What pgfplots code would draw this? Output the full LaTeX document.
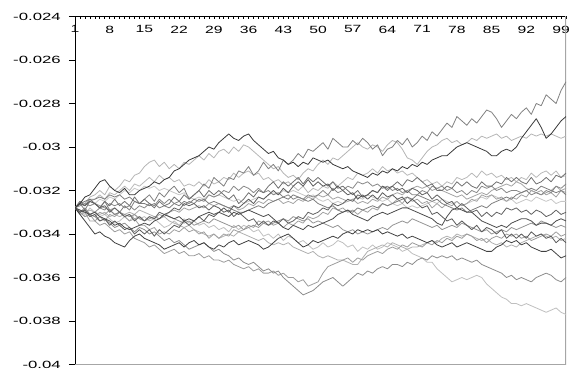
\documentclass[border=0pt]{standalone}
\usepackage{pgfplots}
\pgfplotsset{compat=1.18}
\usepackage{fontspec}
\setmainfont{Liberation Sans}

% every path is one column of values in units of 1e-4, one row per step
\pgfplotsset{
  walk/.style={no markers, line width=0.8bp, line join=round},
  /pgfplots/table/steps/.style={
    /pgfplots/table/x expr=\coordindex+1,
    /pgfplots/table/y expr=\thisrowno{0}/10000,
    /pgfplots/table/header=false,
    /pgfplots/table/row sep=\\},
}

\begin{document}
\begin{tikzpicture}
\begin{axis}[
  anchor=south west, at={(0,0)},
  width=491bp, height=348bp, scale only axis,
  xmin=1, xmax=100, ymin=-0.04, ymax=-0.024,
  enlargelimits=false, clip=true,
  axis x line=top, axis y line=left,
  axis line style={-, black, line width=0.8bp},
  tick align=inside,
  xtick={1,8,15,22,29,36,43,50,57,64,71,78,85,92,99},
  xticklabels={1,8,15,22,29,36,43,50,57,64,71,78,85,92,99},
  minor xtick={1,...,100},
  major tick length=3bp, minor tick length=3bp,
  every tick/.style={black, line width=0.6bp},
  ytick=\empty,
  extra y ticks={-0.04,-0.038,-0.036,-0.034,-0.032,-0.03,-0.028,-0.026,-0.024},
  extra y tick labels={-0.04,-0.038,-0.036,-0.034,-0.032,-0.03,-0.028,-0.026,-0.024},
  extra y tick style={major tick length=6bp, tick style={xshift=-6bp}},
  xticklabel style={font=\fontsize{10.5}{12}\selectfont, anchor=north, inner sep=0pt, yshift=-9bp, xscale=1.5},
  yticklabel style={font=\fontsize{10.5}{12}\selectfont, anchor=east, inner sep=0pt, xshift=-14bp, xscale=1.6},
]
% plot area frame on the right and bottom
\draw[black!35, line width=1.2bp] (rel axis cs:0,0) -- (rel axis cs:1,0) -- (rel axis cs:1,1);

\addplot[walk, black!25] table[steps] {
-328\\-329\\-331\\-328\\-330\\-332\\-331\\-333\\-335\\-334\\
-332\\-334\\-331\\-333\\-332\\-334\\-333\\-335\\-337\\-336\\
-334\\-336\\-333\\-335\\-334\\-336\\-335\\-337\\-336\\-338\\
-337\\-339\\-336\\-338\\-336\\-337\\-339\\-338\\-341\\-340\\
-342\\-340\\-343\\-341\\-342\\-344\\-343\\-345\\-347\\-346\\
-344\\-346\\-345\\-343\\-344\\-346\\-345\\-348\\-346\\-347\\
-345\\-347\\-346\\-344\\-345\\-346\\-348\\-347\\-349\\-350\\
-351\\-353\\-353\\-356\\-358\\-360\\-362\\-361\\-360\\-361\\
-360\\-359\\-360\\-363\\-365\\-367\\-369\\-370\\-372\\-372\\
-373\\-372\\-373\\-374\\-375\\-376\\-375\\-374\\-376\\-377\\};

\addplot[walk, black!22] table[steps] {
-328\\-327\\-326\\-327\\-326\\-324\\-325\\-323\\-324\\-322\\
-320\\-321\\-319\\-320\\-318\\-319\\-318\\-320\\-319\\-320\\
-321\\-322\\-321\\-323\\-324\\-323\\-324\\-322\\-323\\-322\\
-323\\-324\\-325\\-324\\-326\\-325\\-324\\-323\\-324\\-322\\
-321\\-322\\-320\\-321\\-320\\-321\\-322\\-323\\-322\\-324\\
-325\\-324\\-326\\-325\\-326\\-325\\-324\\-323\\-324\\-322\\
-323\\-324\\-325\\-324\\-326\\-327\\-326\\-328\\-327\\-328\\
-327\\-326\\-325\\-326\\-324\\-325\\-326\\-325\\-327\\-326\\
-325\\-324\\-323\\-324\\-322\\-323\\-324\\-325\\-324\\-326\\
-325\\-324\\-325\\-323\\-324\\-325\\-324\\-326\\-325\\-325\\};

\addplot[walk, black!29] table[steps] {
-328\\-325\\-326\\-323\\-322\\-320\\-322\\-318\\-320\\-318\\
-315\\-316\\-313\\-312\\-309\\-307\\-306\\-309\\-307\\-310\\
-308\\-310\\-307\\-308\\-306\\-304\\-306\\-303\\-305\\-302\\
-301\\-303\\-300\\-302\\-299\\-300\\-302\\-304\\-306\\-308\\
-310\\-309\\-312\\-314\\-313\\-315\\-312\\-310\\-311\\-308\\
-306\\-308\\-305\\-306\\-304\\-302\\-300\\-298\\-300\\-301\\
-299\\-300\\-302\\-299\\-297\\-298\\-301\\-305\\-306\\-308\\
-305\\-302\\-300\\-299\\-297\\-296\\-298\\-297\\-299\\-298\\
-296\\-297\\-295\\-296\\-295\\-294\\-296\\-295\\-297\\-296\\
-295\\-296\\-294\\-295\\-294\\-295\\-294\\-295\\-296\\-295\\};

\addplot[walk, black!28] table[steps] {
-328\\-326\\-327\\-325\\-324\\-322\\-324\\-321\\-322\\-320\\
-318\\-320\\-317\\-318\\-316\\-314\\-316\\-313\\-315\\-314\\
-316\\-315\\-318\\-317\\-318\\-316\\-318\\-315\\-317\\-316\\
-314\\-315\\-312\\-314\\-312\\-311\\-313\\-312\\-315\\-314\\
-316\\-315\\-317\\-316\\-318\\-320\\-318\\-321\\-319\\-320\\
-318\\-319\\-316\\-318\\-316\\-314\\-315\\-312\\-313\\-312\\
-310\\-312\\-309\\-311\\-310\\-312\\-311\\-313\\-312\\-314\\
-316\\-315\\-317\\-316\\-318\\-316\\-317\\-314\\-315\\-314\\
-312\\-314\\-311\\-313\\-312\\-314\\-313\\-315\\-314\\-316\\
-314\\-315\\-312\\-314\\-312\\-311\\-313\\-311\\-314\\-313\\};

\addplot[walk, black!31] table[steps] {
-328\\-329\\-330\\-329\\-330\\-331\\-330\\-332\\-331\\-332\\
-331\\-330\\-331\\-329\\-330\\-331\\-332\\-333\\-332\\-334\\
-335\\-336\\-337\\-336\\-338\\-339\\-340\\-341\\-340\\-342\\
-341\\-340\\-341\\-339\\-340\\-341\\-342\\-343\\-342\\-344\\
-345\\-344\\-345\\-344\\-346\\-347\\-348\\-349\\-348\\-350\\
-351\\-350\\-351\\-352\\-352\\-353\\-354\\-354\\-351\\-348\\
-347\\-346\\-345\\-346\\-344\\-345\\-346\\-347\\-346\\-346\\
-345\\-344\\-343\\-344\\-342\\-341\\-342\\-340\\-341\\-340\\
-341\\-342\\-343\\-342\\-344\\-345\\-344\\-346\\-345\\-346\\
-344\\-343\\-342\\-341\\-340\\-341\\-342\\-341\\-343\\-342\\};

\addplot[walk, black!36] table[steps] {
-328\\-330\\-332\\-331\\-332\\-330\\-331\\-329\\-331\\-330\\
-332\\-331\\-333\\-332\\-334\\-332\\-333\\-331\\-332\\-330\\
-329\\-330\\-328\\-329\\-328\\-327\\-328\\-326\\-327\\-326\\
-327\\-328\\-327\\-329\\-328\\-326\\-327\\-325\\-326\\-324\\
-325\\-324\\-326\\-325\\-326\\-324\\-325\\-323\\-324\\-322\\
-323\\-322\\-324\\-323\\-324\\-325\\-324\\-326\\-325\\-326\\
-324\\-325\\-323\\-324\\-322\\-321\\-322\\-320\\-319\\-318\\
-319\\-318\\-320\\-319\\-320\\-321\\-322\\-323\\-322\\-324\\
-323\\-322\\-321\\-322\\-320\\-319\\-318\\-317\\-318\\-316\\
-317\\-319\\-320\\-321\\-322\\-321\\-320\\-318\\-320\\-319\\};

\addplot[walk, black!37] table[steps] {
-328\\-331\\-330\\-334\\-334\\-332\\-334\\-331\\-332\\-330\\
-332\\-334\\-333\\-336\\-336\\-338\\-337\\-340\\-339\\-340\\
-338\\-339\\-337\\-339\\-338\\-340\\-339\\-342\\-340\\-342\\
-340\\-341\\-338\\-339\\-338\\-336\\-337\\-334\\-335\\-334\\
-336\\-335\\-337\\-335\\-336\\-334\\-335\\-332\\-333\\-332\\
-330\\-331\\-328\\-329\\-328\\-330\\-329\\-331\\-329\\-330\\
-328\\-329\\-326\\-327\\-326\\-324\\-326\\-323\\-325\\-324\\
-326\\-325\\-328\\-326\\-328\\-326\\-327\\-325\\-327\\-326\\
-324\\-325\\-322\\-323\\-322\\-324\\-323\\-325\\-323\\-324\\
-322\\-323\\-320\\-321\\-320\\-322\\-321\\-323\\-320\\-321\\};

\addplot[walk, black!39] table[steps] {
-328\\-330\\-332\\-331\\-334\\-336\\-335\\-337\\-339\\-338\\
-340\\-339\\-342\\-343\\-344\\-346\\-345\\-347\\-349\\-348\\
-347\\-349\\-348\\-350\\-350\\-349\\-351\\-350\\-352\\-352\\
-353\\-352\\-354\\-355\\-356\\-355\\-357\\-356\\-358\\-358\\
-357\\-359\\-358\\-360\\-360\\-362\\-361\\-364\\-363\\-362\\
-358\\-355\\-354\\-353\\-352\\-351\\-353\\-351\\-352\\-350\\
-349\\-348\\-349\\-347\\-346\\-347\\-345\\-346\\-344\\-345\\
-346\\-344\\-345\\-343\\-344\\-342\\-343\\-341\\-342\\-340\\
-341\\-343\\-342\\-344\\-342\\-341\\-342\\-340\\-341\\-340\\
-342\\-341\\-343\\-342\\-341\\-340\\-341\\-339\\-341\\-340\\};

\addplot[walk, black!42] table[steps] {
-328\\-327\\-326\\-327\\-326\\-327\\-328\\-329\\-328\\-330\\
-331\\-332\\-331\\-333\\-334\\-333\\-332\\-333\\-331\\-332\\
-333\\-334\\-335\\-334\\-336\\-335\\-334\\-335\\-333\\-334\\
-335\\-336\\-337\\-336\\-338\\-337\\-336\\-337\\-335\\-336\\
-335\\-334\\-333\\-334\\-332\\-333\\-334\\-333\\-335\\-334\\
-335\\-336\\-337\\-336\\-338\\-339\\-338\\-340\\-339\\-340\\
-339\\-338\\-337\\-338\\-336\\-335\\-334\\-335\\-333\\-334\\
-335\\-336\\-337\\-336\\-338\\-337\\-336\\-337\\-335\\-336\\
-337\\-338\\-339\\-338\\-340\\-339\\-338\\-339\\-337\\-338\\
-337\\-336\\-335\\-336\\-334\\-335\\-336\\-337\\-336\\-337\\};

\addplot[walk, black!45] table[steps] {
-328\\-330\\-329\\-331\\-332\\-334\\-333\\-335\\-337\\-336\\
-335\\-337\\-339\\-337\\-338\\-340\\-339\\-341\\-343\\-342\\
-344\\-343\\-345\\-347\\-346\\-345\\-344\\-346\\-348\\-347\\
-349\\-350\\-352\\-351\\-353\\-354\\-353\\-355\\-357\\-356\\
-358\\-357\\-360\\-362\\-364\\-366\\-368\\-367\\-366\\-364\\
-362\\-361\\-360\\-362\\-364\\-362\\-360\\-358\\-359\\-357\\
-358\\-356\\-355\\-356\\-354\\-354\\-355\\-353\\-354\\-352\\
-351\\-352\\-350\\-351\\-350\\-351\\-350\\-352\\-351\\-352\\
-353\\-352\\-354\\-355\\-356\\-357\\-358\\-360\\-359\\-361\\
-360\\-361\\-362\\-360\\-359\\-358\\-359\\-361\\-362\\-360\\};

\addplot[walk, black!47] table[steps] {
-328\\-330\\-328\\-331\\-330\\-328\\-329\\-326\\-327\\-326\\
-328\\-327\\-329\\-327\\-328\\-326\\-327\\-324\\-326\\-324\\
-326\\-325\\-327\\-325\\-326\\-324\\-325\\-322\\-323\\-322\\
-320\\-321\\-318\\-320\\-318\\-319\\-321\\-319\\-321\\-320\\
-322\\-321\\-323\\-322\\-324\\-323\\-324\\-322\\-323\\-322\\
-320\\-322\\-319\\-321\\-320\\-318\\-319\\-316\\-317\\-316\\
-318\\-317\\-319\\-318\\-320\\-319\\-321\\-320\\-322\\-322\\
-320\\-321\\-318\\-319\\-318\\-320\\-319\\-321\\-320\\-322\\
-320\\-321\\-318\\-319\\-318\\-320\\-319\\-321\\-320\\-320\\
-321\\-320\\-322\\-321\\-322\\-320\\-321\\-318\\-319\\-317\\};

\addplot[walk, black!50] table[steps] {
-328\\-326\\-329\\-325\\-326\\-328\\-325\\-329\\-331\\-330\\
-327\\-329\\-325\\-326\\-324\\-322\\-325\\-321\\-323\\-320\\
-318\\-321\\-319\\-324\\-322\\-320\\-317\\-319\\-314\\-316\\
-318\\-314\\-315\\-311\\-312\\-309\\-313\\-311\\-307\\-310\\
-308\\-311\\-306\\-308\\-306\\-303\\-305\\-301\\-302\\-300\\
-298\\-301\\-296\\-298\\-300\\-300\\-297\\-299\\-296\\-298\\
-301\\-299\\-304\\-301\\-300\\-297\\-299\\-296\\-300\\-298\\
-295\\-297\\-293\\-295\\-292\\-289\\-291\\-286\\-288\\-290\\
-287\\-289\\-286\\-283\\-284\\-287\\-291\\-288\\-285\\-287\\
-284\\-282\\-285\\-280\\-281\\-276\\-278\\-280\\-274\\-270\\};

\addplot[walk, black!51] table[steps] {
-328\\-326\\-325\\-324\\-324\\-323\\-324\\-322\\-323\\-322\\
-324\\-323\\-325\\-326\\-326\\-327\\-326\\-328\\-327\\-328\\
-326\\-327\\-325\\-326\\-324\\-325\\-324\\-326\\-325\\-326\\
-327\\-328\\-329\\-330\\-330\\-329\\-328\\-327\\-328\\-326\\
-325\\-324\\-323\\-324\\-322\\-323\\-324\\-325\\-324\\-326\\
-327\\-328\\-327\\-329\\-330\\-329\\-330\\-328\\-329\\-328\\
-327\\-328\\-326\\-327\\-326\\-325\\-324\\-323\\-324\\-322\\
-323\\-324\\-325\\-324\\-326\\-327\\-328\\-329\\-328\\-330\\
-329\\-328\\-327\\-328\\-326\\-325\\-324\\-323\\-324\\-322\\
-321\\-320\\-319\\-320\\-318\\-319\\-320\\-321\\-320\\-322\\};

\addplot[walk, black!56] table[steps] {
-328\\-325\\-327\\-324\\-326\\-328\\-325\\-327\\-324\\-327\\
-325\\-327\\-323\\-326\\-324\\-326\\-328\\-325\\-327\\-326\\
-323\\-325\\-322\\-324\\-322\\-320\\-323\\-320\\-322\\-320\\
-322\\-324\\-322\\-326\\-324\\-321\\-323\\-320\\-321\\-318\\
-316\\-319\\-316\\-318\\-316\\-314\\-317\\-314\\-316\\-314\\
-316\\-318\\-316\\-319\\-318\\-320\\-322\\-320\\-323\\-322\\
-320\\-321\\-318\\-320\\-318\\-316\\-318\\-315\\-316\\-314\\
-316\\-318\\-317\\-320\\-320\\-318\\-319\\-316\\-318\\-316\\
-318\\-319\\-316\\-318\\-318\\-316\\-317\\-314\\-316\\-314\\
-316\\-317\\-314\\-317\\-316\\-314\\-316\\-313\\-314\\-312\\};

\addplot[walk, black!62] table[steps] {
-328\\-326\\-327\\-325\\-326\\-328\\-327\\-330\\-328\\-330\\
-332\\-331\\-334\\-332\\-334\\-332\\-333\\-330\\-331\\-330\\
-328\\-329\\-326\\-327\\-326\\-328\\-327\\-329\\-327\\-328\\
-330\\-329\\-332\\-330\\-332\\-334\\-333\\-336\\-334\\-336\\
-334\\-335\\-333\\-335\\-334\\-332\\-333\\-330\\-331\\-330\\
-328\\-329\\-326\\-327\\-326\\-324\\-325\\-322\\-323\\-322\\
-320\\-321\\-318\\-319\\-318\\-320\\-319\\-321\\-319\\-320\\
-322\\-321\\-324\\-322\\-324\\-326\\-325\\-328\\-326\\-328\\
-330\\-329\\-332\\-330\\-332\\-330\\-331\\-328\\-329\\-328\\
-330\\-329\\-331\\-329\\-330\\-332\\-331\\-329\\-331\\-330\\};

\addplot[walk, black!65] table[steps] {
-328\\-330\\-329\\-332\\-331\\-334\\-333\\-336\\-334\\-336\\
-338\\-337\\-340\\-338\\-340\\-338\\-341\\-338\\-340\\-338\\
-336\\-337\\-334\\-336\\-334\\-332\\-334\\-331\\-332\\-330\\
-328\\-330\\-327\\-328\\-326\\-324\\-326\\-323\\-324\\-322\\
-320\\-322\\-319\\-321\\-318\\-316\\-318\\-315\\-318\\-316\\
-318\\-317\\-320\\-318\\-320\\-322\\-321\\-324\\-322\\-324\\
-322\\-324\\-321\\-323\\-322\\-324\\-323\\-326\\-324\\-326\\
-328\\-327\\-331\\-330\\-332\\-334\\-333\\-336\\-334\\-336\\
-338\\-336\\-339\\-337\\-338\\-340\\-338\\-342\\-340\\-342\\
-340\\-342\\-339\\-341\\-340\\-342\\-341\\-344\\-342\\-344\\};

\addplot[walk, black!70] table[steps] {
-328\\-329\\-330\\-331\\-330\\-332\\-333\\-334\\-336\\-335\\
-337\\-338\\-337\\-336\\-335\\-336\\-334\\-333\\-331\\-332\\
-333\\-332\\-334\\-333\\-334\\-332\\-331\\-330\\-331\\-330\\
-331\\-332\\-330\\-331\\-330\\-329\\-330\\-331\\-332\\-331\\
-333\\-335\\-337\\-338\\-336\\-337\\-338\\-336\\-337\\-336\\
-335\\-334\\-333\\-331\\-330\\-329\\-331\\-332\\-333\\-334\\
-332\\-331\\-330\\-331\\-330\\-329\\-328\\-328\\-329\\-330\\
-331\\-332\\-333\\-335\\-336\\-332\\-329\\-328\\-329\\-330\\
-330\\-332\\-334\\-335\\-336\\-337\\-336\\-337\\-335\\-334\\
-333\\-333\\-334\\-336\\-335\\-335\\-336\\-334\\-333\\-334\\};

\addplot[walk, black!75] table[steps] {
-328\\-331\\-334\\-337\\-340\\-339\\-341\\-342\\-344\\-345\\
-346\\-343\\-341\\-340\\-342\\-343\\-344\\-345\\-347\\-346\\
-345\\-344\\-346\\-344\\-343\\-345\\-344\\-346\\-347\\-345\\
-346\\-344\\-343\\-345\\-344\\-343\\-344\\-345\\-347\\-346\\
-344\\-342\\-341\\-340\\-342\\-344\\-346\\-345\\-343\\-344\\
-343\\-342\\-341\\-342\\-340\\-339\\-340\\-338\\-339\\-338\\
-339\\-338\\-340\\-339\\-340\\-341\\-340\\-342\\-341\\-342\\
-343\\-344\\-343\\-345\\-346\\-345\\-344\\-346\\-345\\-344\\
-345\\-346\\-347\\-348\\-348\\-346\\-345\\-343\\-344\\-343\\
-345\\-344\\-346\\-347\\-348\\-348\\-347\\-349\\-351\\-350\\};

\addplot[walk, black!78] table[steps] {
-328\\-326\\-323\\-322\\-319\\-316\\-315\\-318\\-320\\-321\\
-319\\-322\\-322\\-320\\-319\\-318\\-316\\-317\\-315\\-314\\
-311\\-310\\-308\\-306\\-305\\-304\\-302\\-300\\-301\\-298\\
-296\\-294\\-296\\-297\\-295\\-294\\-297\\-299\\-301\\-303\\
-302\\-305\\-306\\-308\\-307\\-309\\-307\\-308\\-305\\-306\\
-307\\-306\\-308\\-309\\-310\\-309\\-311\\-312\\-313\\-314\\
-312\\-313\\-311\\-312\\-310\\-311\\-309\\-310\\-308\\-309\\
-307\\-308\\-306\\-305\\-304\\-304\\-302\\-300\\-299\\-298\\
-299\\-300\\-301\\-302\\-304\\-304\\-302\\-301\\-302\\-300\\
-296\\-293\\-290\\-287\\-291\\-296\\-294\\-291\\-288\\-286\\};
\end{axis}
\pgfresetboundingbox
\path (-75bp,-5.5bp) rectangle (494bp,364.5bp);
\end{tikzpicture}
\end{document}
